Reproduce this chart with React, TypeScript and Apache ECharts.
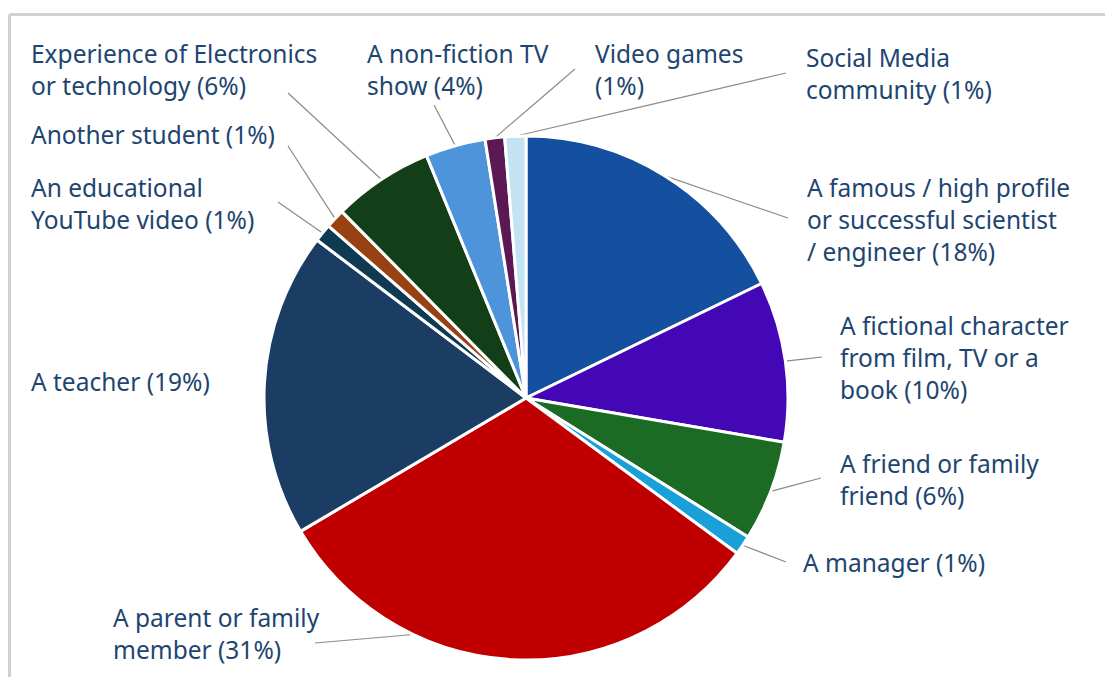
import React, { useEffect, useRef } from "react";
import * as echarts from "echarts";

const categories = [
  "A famous / high profile or successful scientist / engineer",
  "A fictional character from film, TV or a book",
  "A friend or family friend",
  "A manager",
  "A parent or family member",
  "A teacher",
  "An educational YouTube video",
  "Another student",
  "Experience of Electronics or technology",
  "A non-fiction TV show",
  "Video games",
  "Social Media community",
];
const values = [17.8, 9.9, 6.2, 1.2, 31.4, 18.8, 1.1, 1.2, 6.2, 3.7, 1.2, 1.3];
const labelTexts = [
  "A famous / high profile\nor successful scientist\n/ engineer ({p}%)",
  "A fictional character\nfrom film, TV or a\nbook ({p}%)",
  "A friend or family\nfriend ({p}%)",
  "A manager ({p}%)",
  "A parent or family\nmember ({p}%)",
  "A teacher ({p}%)",
  "An educational\nYouTube video ({p}%)",
  "Another student ({p}%)",
  "Experience of Electronics\nor technology ({p}%)",
  "A non-fiction TV\nshow ({p}%)",
  "Video games\n({p}%)",
  "Social Media\ncommunity ({p}%)",
];
const colors = [
  "#154FA0", "#4407B6", "#1C6B24", "#19A0D8", "#C00000", "#1B3D63",
  "#0F3A52", "#984113", "#123F17", "#4E94DA", "#5B1854", "#C3E3F5",
];

// layout (pixels): label top-left and leader-line end
const CX = 526;
const CY = 398;
const R = 262;
const labelLayoutPos: [number, number, number, number][] = [
  [807, 171, 788, 218],
  [840, 309, 822, 357],
  [840, 447, 821, 478],
  [803, 546, 786, 562],
  [113, 601, 315, 643],
  [31, 365, 265, 379],
  [31, 171, 278, 202],
  [31, 118, 288, 146],
  [31, 37, 288, 93],
  [367, 37, 434, 105],
  [595, 37, 575, 69],
  [806, 41, 786, 73],
];
const lineStartFrac = [0.5, 0.5, 0.5, 0.5, 0.7, 0.5, 0.5, 0.5, 0.5, 0.5, 0.5, 0.5];

export default function App() {
  const ref = useRef<HTMLDivElement>(null);
  useEffect(() => {
    if (!ref.current) return;
    const chart = echarts.init(ref.current, undefined, { renderer: "svg" });
    const total = values.reduce((a, b) => a + b, 0);
    const cum: number[] = [];
    let acc = 0;
    values.forEach((v) => {
      cum.push(acc);
      acc += v;
    });
    const startPoint = (i: number) => {
      const frac = (cum[i] + values[i] * lineStartFrac[i]) / total;
      const a = frac * Math.PI * 2;
      return [CX + R * Math.sin(a), CY - R * Math.cos(a)];
    };
    chart.setOption({
      animation: false,
      backgroundColor: "#ffffff",
      textStyle: { fontFamily: "Noto Sans" },
      graphic: [
        {
          type: "line",
          shape: { x1: 9.5, y1: 14.5, x2: 1110, y2: 14.5 },
          style: { stroke: "#D0D0D0", lineWidth: 3 },
        },
        {
          type: "line",
          shape: { x1: 9.5, y1: 14.5, x2: 9.5, y2: 690 },
          style: { stroke: "#D0D0D0", lineWidth: 3 },
        },
      ],
      series: [
        {
          type: "pie",
          center: [CX, CY],
          radius: R,
          startAngle: 90,
          clockwise: true,
          avoidLabelOverlap: false,
          data: categories.map((name, i) => ({
            name,
            value: values[i],
            itemStyle: { color: colors[i] },
          })),
          itemStyle: { borderColor: "#ffffff", borderWidth: 3 },
          label: {
            show: true,
            position: "outside",
            color: "#1E4570",
            fontSize: 24.5,
            lineHeight: 32,
            fontFamily: "Noto Sans",
            formatter: (p: any) =>
              labelTexts[p.dataIndex].replace(
                "{p}",
                String(Math.round((values[p.dataIndex] / total) * 100))
              ),
          },
          labelLine: {
            show: true,
            lineStyle: { color: "#8C8C8C", width: 1.2 },
          },
          labelLayout: (params: any) => {
            const i = params.dataIndex;
            const pos = labelLayoutPos[i];
            const s = startPoint(i);
            const e = [pos[2], pos[3]];
            return {
              x: pos[0],
              y: pos[1],
              align: "left",
              verticalAlign: "top",
              labelLinePoints: [s, [(s[0] + e[0]) / 2, (s[1] + e[1]) / 2], e],
            };
          },
        },
      ],
    });
    return () => chart.dispose();
  }, []);
  return (
    <div
      ref={ref}
      style={{ position: "absolute", left: 0, top: 0, width: 1105, height: 677 }}
    />
  );
}
